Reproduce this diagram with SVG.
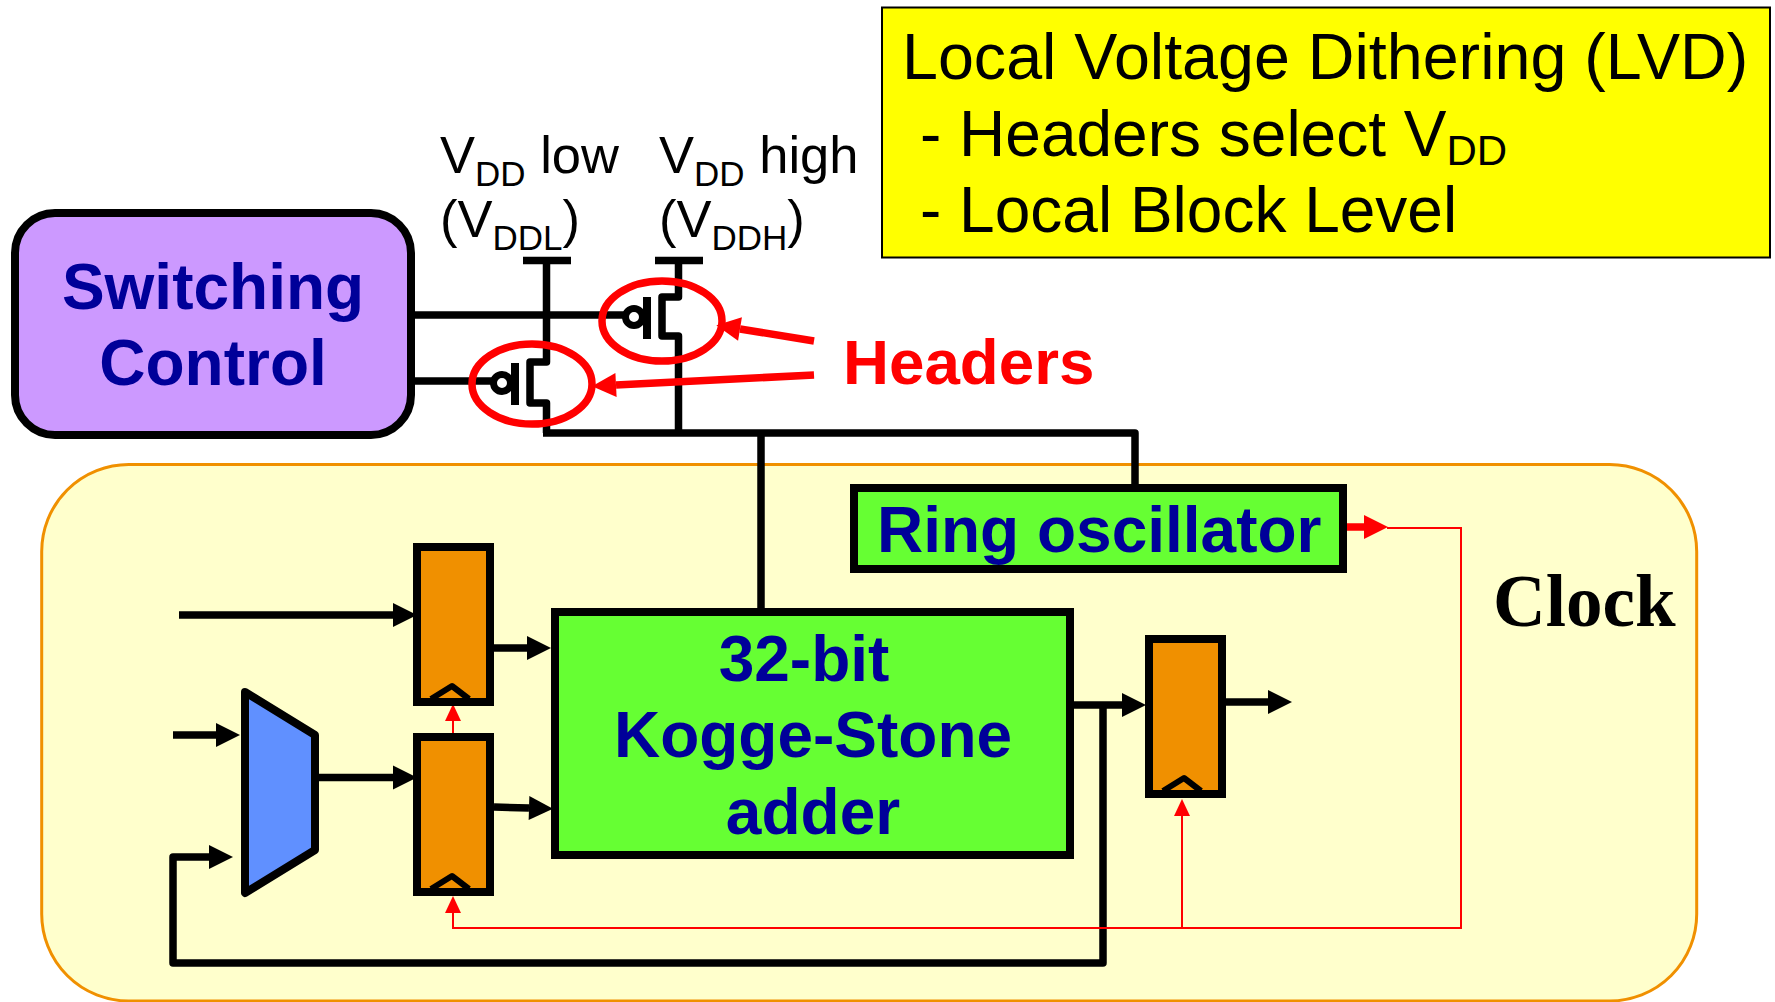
<svg xmlns="http://www.w3.org/2000/svg" width="1775" height="1002" viewBox="0 0 1775 1002">
<style>
.t{font-family:"Liberation Sans",Arial,sans-serif}
.blue{font-weight:bold;font-size:64px;fill:#000099}
.mid{text-anchor:middle}
.lab{font-size:52.500px;fill:#000}
.title{font-size:64px;fill:#000}
.w{fill:none;stroke:#000;stroke-width:7.500;stroke-linejoin:round}
.g{fill:none;stroke:#000;stroke-width:8}
.b{fill:#fff;stroke:#000;stroke-width:7}
.rf{fill:none;stroke:#f00;stroke-width:2}
.ra{fill:none;stroke:#f00;stroke-width:7.500}
.ff{fill:#F09000;stroke:#000;stroke-width:8}
.ck{fill:none;stroke:#000;stroke-width:6;stroke-linejoin:round}
.gr{fill:#66FF33;stroke:#000;stroke-width:8}
.ring{fill:none;stroke:#f00;stroke-width:7.500}
</style>
<defs>
<marker id="ab" markerUnits="userSpaceOnUse" markerWidth="24" markerHeight="24" refX="0" refY="12" orient="auto" overflow="visible"><path d="M0,0L24,12L0,24z" fill="#000"/></marker>
<marker id="ar" markerUnits="userSpaceOnUse" markerWidth="24" markerHeight="24" refX="0" refY="12" orient="auto" overflow="visible"><path d="M0,0L24,12L0,24z" fill="#f00"/></marker>
<marker id="arb" markerUnits="userSpaceOnUse" markerWidth="24" markerHeight="16" refX="0" refY="8" orient="auto" overflow="visible"><path d="M0,0L17,8L0,16z" fill="#f00"/></marker>
</defs>
<rect width="1775" height="1002" fill="#fff"/>
<g id="clock-domain">
<rect x="41.700" y="464.500" width="1655" height="536.500" rx="87" fill="#FFFFCC" stroke="#F09000" stroke-width="3"/>
<text x="1493" y="626" font-size="73" font-weight="bold" font-family="'Liberation Serif',serif" fill="#000">Clock</text>
</g>
<g id="connectors">
<path class="w" d="M412,315H625"/>
<path class="w" d="M412,381H492"/>
<path class="w" d="M523,260.500H571M546.500,260V362H530V403H546.500V433"/>
<path class="w" d="M655,260.500H703M678.500,260V297H662V336H678.500V433"/>
<path class="w" d="M543,433H1135V484"/>
<path class="w" d="M761,433V608"/>
<path class="w" d="M179,615H393" marker-end="url(#ab)"/>
<path class="w" d="M494,648H527" marker-end="url(#ab)"/>
<path class="w" d="M173,735H216" marker-end="url(#ab)"/>
<path class="w" d="M319,777.500H393" marker-end="url(#ab)"/>
<path class="w" d="M494,807L529,808" marker-end="url(#ab)"/>
<path class="w" d="M1103,705V963H173V857H209" marker-end="url(#ab)"/>
<path class="w" d="M1074,705H1122" marker-end="url(#ab)"/>
<path class="w" d="M1226,702H1268" marker-end="url(#ab)"/>
<path class="ra" d="M1343,527H1364" marker-end="url(#ar)"/>
<path class="rf" d="M1387,528H1461V928H453V913" marker-end="url(#arb)"/>
<path class="rf" d="M1182,928V816" marker-end="url(#arb)"/>
<path class="rf" d="M453,733V721" marker-end="url(#arb)"/>
<path class="ra" d="M814,341L740,329" marker-end="url(#ar)"/>
<path class="ra" d="M814,375L616,385" marker-end="url(#ar)"/>
</g>
<g id="legend">
<rect x="882" y="7.500" width="888" height="250" fill="#FFFF00" stroke="#000" stroke-width="2"/>
<text class="t" font-size="64.600" x="902" y="79">Local Voltage Dithering (LVD)</text>
<text class="t title" x="920" y="156">- Headers select V<tspan font-size="42" dy="9">DD</tspan></text>
<text class="t title" x="920" y="232">- Local Block Level</text>
</g>
<g id="switching-control">
<rect x="15" y="213" width="396" height="222" rx="40" fill="#CC99FF" stroke="#000" stroke-width="8"/>
<text class="t blue mid" x="213" y="309">Switching</text>
<text class="t blue mid" x="213" y="385">Control</text>
</g>
<g id="vdd-low">
<text class="t lab" x="440" y="173">V<tspan font-size="35" dy="13">DD</tspan><tspan dy="-13"> low</tspan></text>
<text class="t lab" x="440" y="237">(V<tspan font-size="35" dy="13">DDL</tspan><tspan dy="-13">)</tspan></text>
</g>
<g id="vdd-high">
<text class="t lab" x="659" y="173">V<tspan font-size="35" dy="13">DD</tspan><tspan dy="-13"> high</tspan></text>
<text class="t lab" x="659" y="237">(V<tspan font-size="35" dy="13">DDH</tspan><tspan dy="-13">)</tspan></text>
</g>
<g id="header-high">
<circle class="b" cx="634" cy="317" r="8.500"/>
<path class="g" d="M647,297V339"/>
<ellipse class="ring" cx="662" cy="321" rx="60" ry="40"/>
</g>
<g id="header-low">
<circle class="b" cx="502" cy="383" r="8.500"/>
<path class="g" d="M515,363V405"/>
<ellipse class="ring" cx="532" cy="384" rx="60" ry="40"/>
</g>
<g id="headers-label">
<text class="t" x="843" y="384" font-size="63.700" font-weight="bold" fill="#f00">Headers</text>
</g>
<g id="ring-oscillator">
<rect class="gr" x="854" y="488" width="489" height="81"/>
<text class="t blue" x="877" y="552">Ring oscillator</text>
</g>
<g id="adder">
<rect class="gr" x="555" y="612" width="515" height="243"/>
<text class="t blue mid" x="804" y="681">32-bit</text>
<text class="t blue mid" x="813" y="757">Kogge-Stone</text>
<text class="t blue mid" x="813" y="834">adder</text>
</g>
<g id="mux">
<path d="M245,692L315,735V850L245,893Z" fill="#6090FF" stroke="#000" stroke-width="8" stroke-linejoin="round"/>
</g>
<g id="flop-1">
<rect class="ff" x="417" y="547" width="73" height="155"/>
<path class="ck" d="M431,699L452,686L469,699"/>
</g>
<g id="flop-2">
<rect class="ff" x="417" y="737" width="73" height="155"/>
<path class="ck" d="M431,889L452,876L469,889"/>
</g>
<g id="flop-3">
<rect class="ff" x="1149" y="639" width="73" height="155"/>
<path class="ck" d="M1163,791L1184,778L1201,791"/>
</g>
</svg>
